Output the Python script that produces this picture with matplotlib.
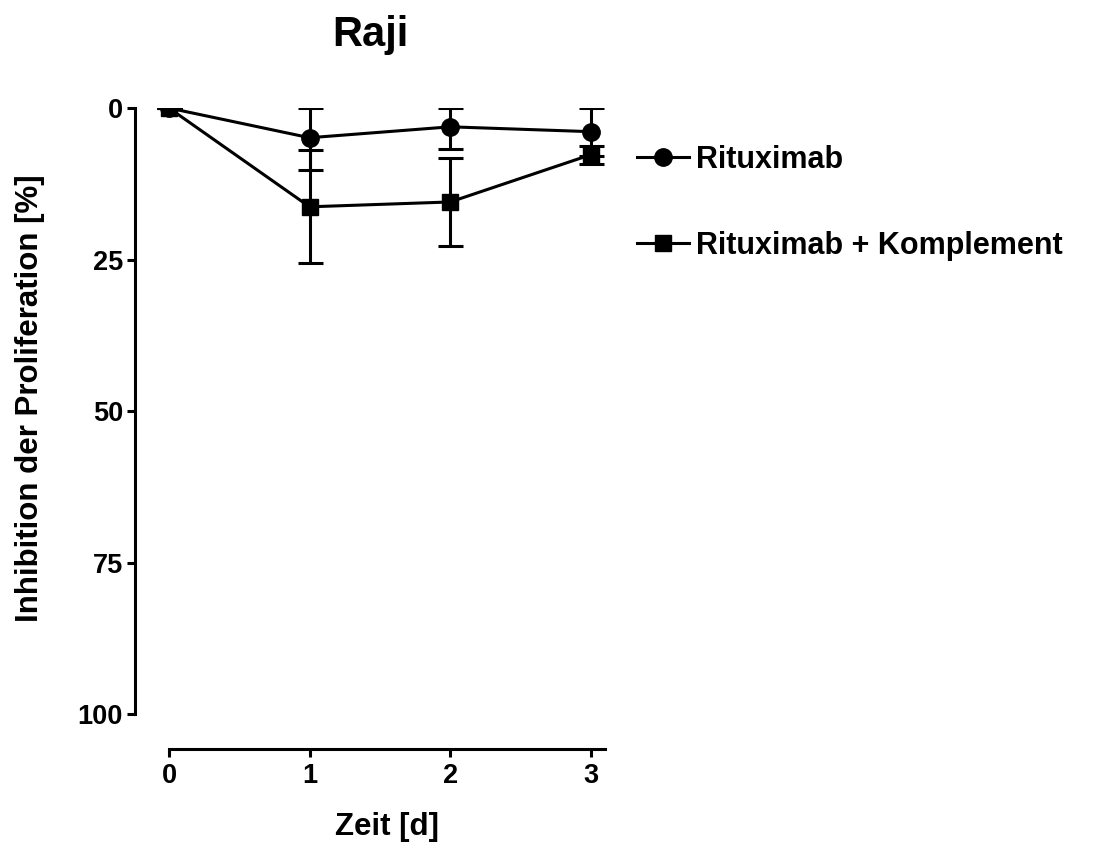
import numpy as np
import matplotlib
matplotlib.use("Agg")
import matplotlib.pyplot as plt

plt.rcParams['font.family'] = ['Liberation Sans', 'DejaVu Sans']
plt.rcParams['font.weight'] = 'bold'

# Daten
zeit = [0, 1, 2, 3]
ritux_mean = [0.0, 4.9, 3.1, 3.9]
ritux_sd = [0.0, 5.3, 3.6, 4.0]
komp_mean = [0.0, 16.3, 15.5, 7.7]
komp_sd = [0.0, 9.3, 7.2, 1.5]

fig = plt.figure(figsize=(10.98, 8.44), dpi=100)
ax = fig.add_axes([0.1347, 0.154, 0.4162, 0.718])


def err(mean, sd):
    mean = np.array(mean)
    sd = np.array(sd)
    # Fehlerbalken Richtung 0 an der Achse abschneiden
    return [np.minimum(sd, mean), sd]


lw = 2.2
# Fehlerbalken
ax.errorbar(zeit, ritux_mean, yerr=err(ritux_mean, ritux_sd), fmt='none',
            ecolor='black', elinewidth=lw, capsize=9, capthick=lw, zorder=2)
ax.errorbar(zeit, komp_mean, yerr=err(komp_mean, komp_sd), fmt='none',
            ecolor='black', elinewidth=lw, capsize=9, capthick=lw, zorder=2)

# Linien mit Symbolen
ax.plot(zeit, ritux_mean, color='black', marker='o', markersize=12.5,
        linewidth=lw, label='Rituximab', zorder=3)
ax.plot(zeit, komp_mean, color='black', marker='s', markersize=11.5,
        linewidth=lw, label='Rituximab + Komplement', zorder=3)

ax.set_xlim(-0.15, 3.1)
ax.set_ylim(100, 0)
ax.set_xticks([0, 1, 2, 3])
ax.set_yticks([0, 25, 50, 75, 100])

for s in ['top', 'right']:
    ax.spines[s].set_visible(False)
ax.spines['left'].set_position(('outward', 9.4))
ax.spines['bottom'].set_position(('outward', 25))
ax.spines['bottom'].set_bounds(0, 3.1)
ax.spines['left'].set_linewidth(lw)
ax.spines['bottom'].set_linewidth(lw)
ax.tick_params(width=lw, length=5.5, labelsize=19.5)
ax.tick_params(axis='y', pad=3)
ax.tick_params(axis='x', pad=5)

fig.text(370 / 1098, 1 - 46 / 844, 'Raji', fontsize=30, fontweight='bold',
         ha='center', va='baseline')
ax.set_xlabel('Zeit [d]', fontsize=22.5, fontweight='bold')
ax.xaxis.set_label_coords(0.523, -0.162)
ax.set_ylabel('Inhibition der Proliferation [%]', fontsize=22.5,
              fontweight='bold')
ax.yaxis.set_label_coords(-0.225, 0.521)

ax.legend(loc='upper left', bbox_to_anchor=(0.580, 0.828),
          bbox_transform=fig.transFigure, frameon=False, fontsize=22,
          handlelength=1.7, handletextpad=0.23, labelspacing=1.83,
          borderpad=0, borderaxespad=0)

fig.savefig('out.png', dpi=100)
